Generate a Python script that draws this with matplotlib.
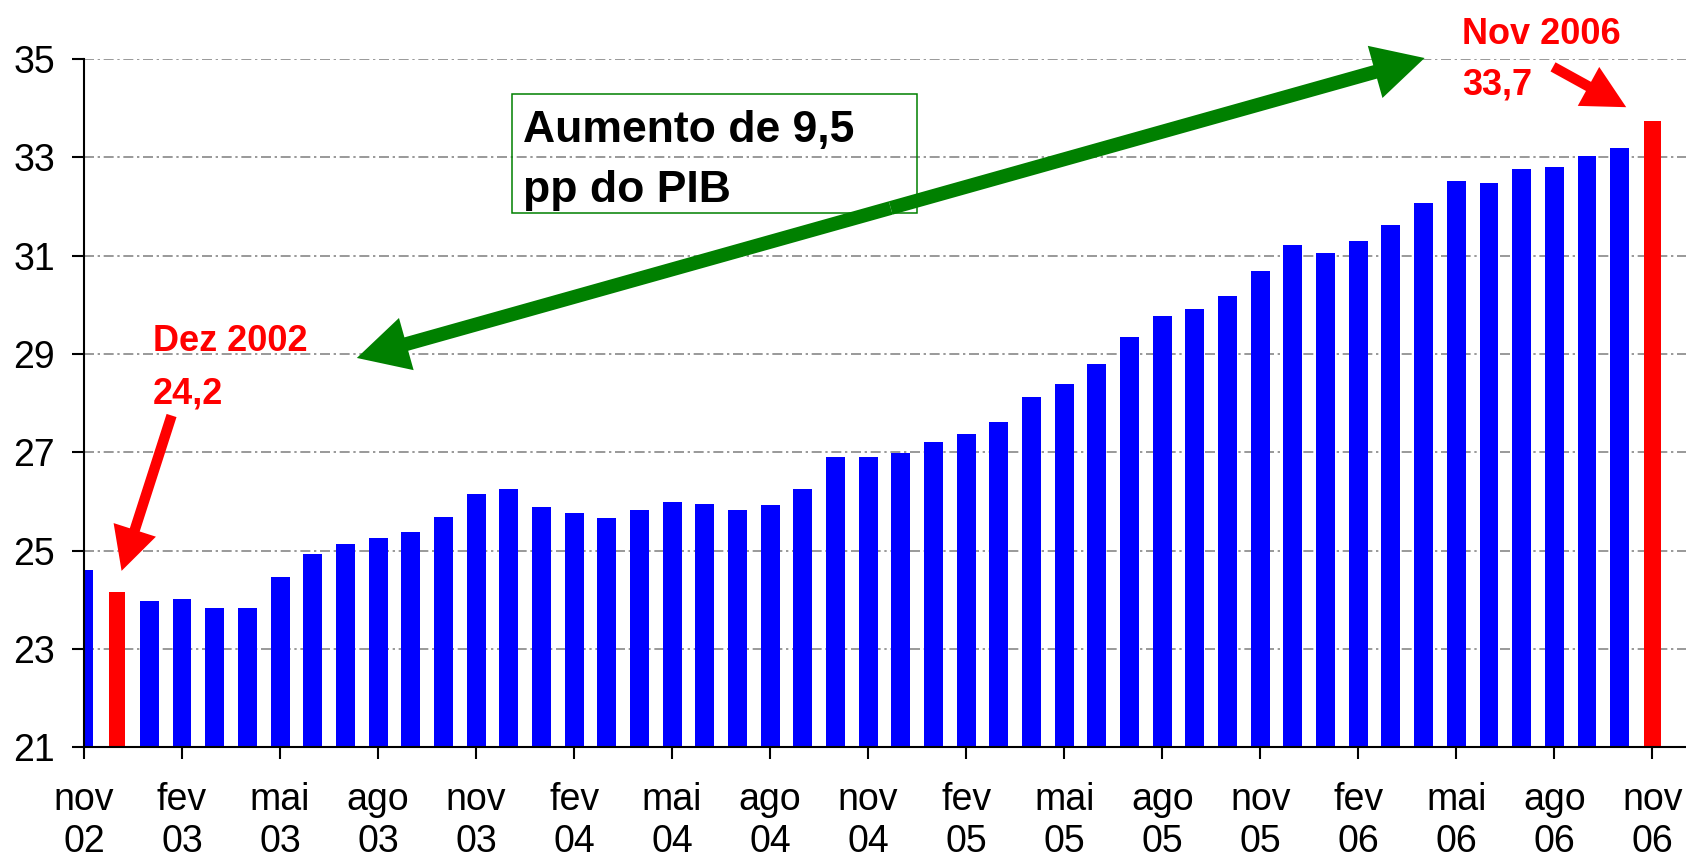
import matplotlib
matplotlib.use('Agg')
import matplotlib.pyplot as plt
from matplotlib.patches import Rectangle, FancyArrowPatch

plt.rcParams['font.family'] = ['Liberation Sans', 'DejaVu Sans']

# Carga tributaria (% do PIB), nov/02 a nov/06, mensal
valores = [24.61, 24.17, 23.97, 24.01, 23.84, 23.84, 24.46, 24.94, 25.14, 25.26,
           25.39, 25.68, 26.16, 26.25, 25.88, 25.76, 25.67, 25.83, 26.00, 25.96,
           25.83, 25.92, 26.25, 26.90, 26.90, 26.98, 27.22, 27.38, 27.62, 28.13,
           28.40, 28.80, 29.34, 29.78, 29.91, 30.19, 30.68, 31.22, 31.05, 31.30,
           31.62, 32.07, 32.52, 32.47, 32.76, 32.81, 33.03, 33.20, 33.73]
destaque = [1, 48]  # dez 2002 e nov 2006

rotulos_x = ['nov\n02', 'fev\n03', 'mai\n03', 'ago\n03', 'nov\n03', 'fev\n04',
             'mai\n04', 'ago\n04', 'nov\n04', 'fev\n05', 'mai\n05', 'ago\n05',
             'nov\n05', 'fev\n06', 'mai\n06', 'ago\n06', 'nov\n06']
ticks_y = [21, 23, 25, 27, 29, 31, 33, 35]

AZUL = '#0000FF'
VERMELHO = '#FF0000'
VERDE = '#008000'

fig = plt.figure(figsize=(16.86, 8.63), dpi=100)
ax = fig.add_axes([84 / 1686, 1 - 747.4 / 863, 1602 / 1686, 688.4 / 863])

x = list(range(len(valores)))
cores = [VERMELHO if i in destaque else AZUL for i in x]
larguras = [0.5 if i in destaque else 0.58 for i in x]
ax.bar(x, valores, width=larguras, color=cores, zorder=2)

ax.set_xlim(0, 49.03)
ax.set_ylim(21, 35)
ax.set_yticks(ticks_y)
ax.set_yticklabels([str(v) for v in ticks_y])
ax.set_xticks(x[::3])
ax.set_xticklabels(rotulos_x, linespacing=1.22)

ax.grid(axis='y', color='#888888', linewidth=1.2, dashes=(6, 2.2, 1.4, 2.2))
ax.set_axisbelow(True)
for s in ['top', 'right']:
    ax.spines[s].set_visible(False)
for s in ['left', 'bottom']:
    ax.spines[s].set_linewidth(1.5)
ax.tick_params(axis='both', direction='out', length=8.8, width=1.5, labelsize=27)
ax.tick_params(axis='y', pad=12)
ax.tick_params(axis='x', pad=16)

# caixa de texto
ax.add_patch(Rectangle((13.10, 31.86), 12.38, 2.43, fill=False, edgecolor=VERDE,
                       linewidth=1.1, clip_on=False, zorder=3))
ax.text(13.45, 33.31, 'Aumento de 9,5', fontsize=32, fontweight='bold',
        va='baseline', ha='left', zorder=4)
ax.text(13.45, 32.10, 'pp do PIB', fontsize=32, fontweight='bold',
        va='baseline', ha='left', zorder=4)

# seta verde dupla
meio = (24.69, 31.97)
for ponta in [(8.35, 28.92), (41.03, 35.02)]:
    ax.add_patch(FancyArrowPatch(meio, ponta,
                                 arrowstyle='simple,tail_width=10,head_width=39,head_length=37',
                                 mutation_scale=1, color=VERDE, linewidth=0,
                                 shrinkA=0, shrinkB=0, clip_on=False, zorder=5))

# anotacoes em vermelho
ax.text(2.11, 29.06, 'Dez 2002', fontsize=26, fontweight='bold', color=VERMELHO,
        va='baseline', ha='left')
ax.text(2.11, 28.00, '24,2', fontsize=26, fontweight='bold', color=VERMELHO,
        va='baseline', ha='left')
ax.text(42.17, 35.30, 'Nov 2006', fontsize=26, fontweight='bold', color=VERMELHO,
        va='baseline', ha='left', clip_on=False)
ax.text(42.17, 34.27, '33,7', fontsize=26, fontweight='bold', color=VERMELHO,
        va='baseline', ha='left', clip_on=False)

for ini, fim in [((2.68, 27.75), (1.15, 24.59)), ((44.96, 34.84), (47.2, 34.02))]:
    ax.add_patch(FancyArrowPatch(ini, fim,
                                 arrowstyle='simple,tail_width=7.5,head_width=32,head_length=31',
                                 mutation_scale=1, color=VERMELHO, linewidth=0,
                                 shrinkA=0, shrinkB=0, clip_on=False, zorder=5))

fig.savefig('out.png', dpi=100)
